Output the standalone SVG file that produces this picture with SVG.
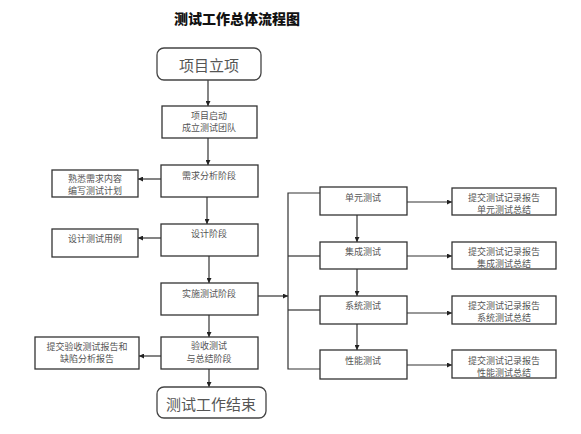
<svg xmlns="http://www.w3.org/2000/svg" width="581" height="434" viewBox="0 0 581 434">
<defs>
<marker id="ah" viewBox="0 0 10 10" refX="10" refY="5" markerWidth="5" markerHeight="5" orient="auto" markerUnits="userSpaceOnUse"><path d="M0,0 L10,5 L0,10 z" fill="#222"/></marker>
</defs>
<style>
.t{font-family:"Noto Sans CJK SC","Noto Sans CJK JP",sans-serif;fill:#555;text-anchor:middle;dominant-baseline:central}
.s{font-size:9px}
.b{font-size:15px}
.box{fill:#fff;stroke:#333;stroke-width:1.3}
.rbox{fill:#fff;stroke:#444;stroke-width:1.3}
.c{fill:none;stroke:#333;stroke-width:1.2}
.a{marker-end:url(#ah)}
</style>
<rect width="581" height="434" fill="#fff"/>
<text class="t" x="237" y="18" style="font-size:14px;font-weight:900;fill:#111">测试工作总体流程图</text>

<g id="connectors">
<line class="c a" x1="208" y1="80" x2="208" y2="106"/>
<line class="c a" x1="208" y1="138" x2="208" y2="165"/>
<line class="c a" x1="161" y1="179" x2="138" y2="179"/>
<line class="c a" x1="207" y1="197" x2="207" y2="224"/>
<line class="c a" x1="161" y1="238" x2="138" y2="238"/>
<line class="c a" x1="209" y1="256" x2="209" y2="283"/>
<line class="c a" x1="209" y1="315" x2="209" y2="337"/>
<line class="c a" x1="161" y1="356" x2="139" y2="356"/>
<line class="c a" x1="209" y1="369" x2="209" y2="387"/>
<line class="c a" x1="258" y1="296" x2="288" y2="296"/>
<polyline class="c" points="320,193 288,193 288,369 320,369"/>
<line class="c" x1="288" y1="256" x2="320" y2="256"/>
<line class="c" x1="288" y1="310" x2="320" y2="310"/>
<line class="c a" x1="357" y1="215" x2="357" y2="242"/>
<line class="c a" x1="357" y1="269" x2="357" y2="296"/>
<line class="c a" x1="357" y1="324" x2="357" y2="350"/>
<line class="c a" x1="407" y1="202" x2="452" y2="202"/>
<line class="c a" x1="407" y1="256" x2="452" y2="256"/>
<line class="c a" x1="407" y1="313" x2="452" y2="313"/>
<line class="c a" x1="407" y1="365" x2="452" y2="365"/>
</g>

<g id="start"><rect class="rbox" x="157" y="48" width="104" height="32" rx="7"/><text class="t b" x="209" y="64">项目立项</text></g>
<g id="kickoff"><rect class="box" x="162" y="106" width="95" height="32"/><text class="t s" x="209" y="115">项目启动</text><text class="t s" x="209" y="127">成立测试团队</text></g>
<g id="req"><rect class="box" x="161" y="165" width="97" height="32"/><text class="t s" x="209" y="175">需求分析阶段</text></g>
<g id="plan"><rect class="box" x="52" y="170" width="86" height="27"/><text class="t s" x="95" y="178">熟悉需求内容</text><text class="t s" x="95" y="190">编写测试计划</text></g>
<g id="design"><rect class="box" x="161" y="224" width="97" height="32"/><text class="t s" x="209" y="233">设计阶段</text></g>
<g id="cases"><rect class="box" x="52" y="229" width="86" height="28"/><text class="t s" x="95" y="238">设计测试用例</text></g>
<g id="impl"><rect class="box" x="161" y="283" width="97" height="32"/><text class="t s" x="209" y="293">实施测试阶段</text></g>
<g id="accept"><rect class="box" x="161" y="337" width="97" height="32"/><text class="t s" x="209" y="345">验收测试</text><text class="t s" x="209" y="358">与总结阶段</text></g>
<g id="report"><rect class="box" x="35" y="337" width="104" height="32"/><text class="t s" x="87" y="346">提交验收测试报告和</text><text class="t s" x="87" y="358">缺陷分析报告</text></g>
<g id="end"><rect class="rbox" x="157" y="387" width="109" height="31" rx="7"/><text class="t b" x="211" y="403">测试工作结束</text></g>

<g id="unit"><rect class="box" x="320" y="187" width="87" height="28"/><text class="t s" x="363" y="197">单元测试</text></g>
<g id="unit-r"><rect class="box" x="452" y="188" width="104" height="27"/><text class="t s" x="504" y="197">提交测试记录报告</text><text class="t s" x="504" y="209">单元测试总结</text></g>
<g id="integ"><rect class="box" x="320" y="242" width="87" height="27"/><text class="t s" x="363" y="251">集成测试</text></g>
<g id="integ-r"><rect class="box" x="452" y="242" width="104" height="27"/><text class="t s" x="504" y="251">提交测试记录报告</text><text class="t s" x="504" y="263">集成测试总结</text></g>
<g id="sys"><rect class="box" x="320" y="296" width="87" height="28"/><text class="t s" x="363" y="305">系统测试</text></g>
<g id="sys-r"><rect class="box" x="452" y="296" width="104" height="28"/><text class="t s" x="504" y="305">提交测试记录报告</text><text class="t s" x="504" y="317">系统测试总结</text></g>
<g id="perf"><rect class="box" x="320" y="350" width="87" height="29"/><text class="t s" x="363" y="360">性能测试</text></g>
<g id="perf-r"><rect class="box" x="452" y="350" width="104" height="28"/><text class="t s" x="504" y="360">提交测试记录报告</text><text class="t s" x="504" y="372">性能测试总结</text></g>
</svg>
